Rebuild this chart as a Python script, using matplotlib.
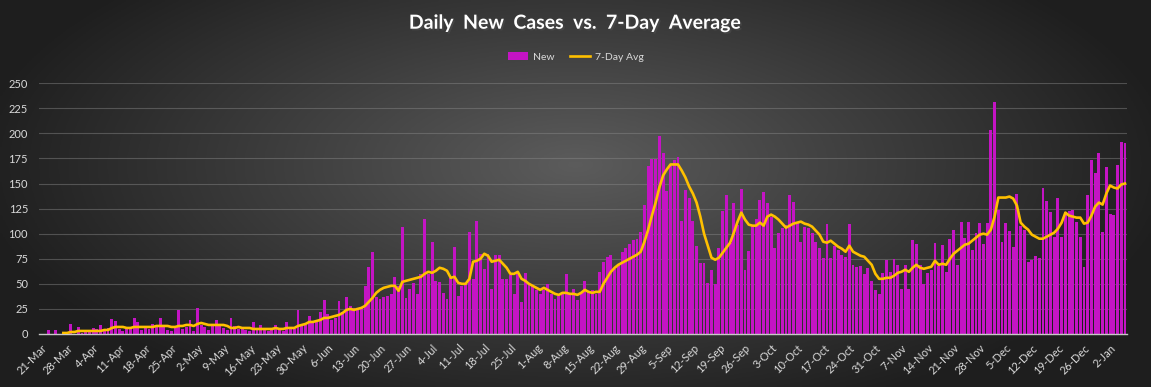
import numpy as np
import pandas as pd
import matplotlib
matplotlib.use('Agg')
import matplotlib.pyplot as plt
import matplotlib.patheffects as pe

# Daily new cases, one value per day starting 21-Mar
start_date = '2020-03-21'
new_cases = [
    0, 0, 4, 0, 4, 0, 0,
    0, 10, 0, 7, 1, 2, 3,
    6, 5, 9, 4, 6, 15, 13,
    5, 3, 6, 5, 16, 12, 4,
    7, 5, 10, 8, 16, 9, 4,
    3, 6, 24, 5, 7, 14, 3,
    26, 9, 7, 4, 9, 14, 9,
    6, 4, 16, 8, 5, 7, 4,
    3, 12, 5, 9, 4, 3, 6,
    9, 5, 3, 12, 6, 5, 24,
    10, 9, 18, 12, 14, 22, 34,
    20, 14, 16, 33, 22, 37, 28,
    26, 24, 26, 48, 67, 82, 37,
    35, 37, 38, 40, 57, 48, 107,
    36, 45, 51, 40, 60, 115, 60,
    92, 53, 52, 41, 35, 56, 87,
    38, 48, 50, 102, 55, 113, 80,
    65, 80, 45, 79, 79, 55, 55,
    59, 40, 62, 32, 61, 50, 48,
    44, 40, 44, 50, 40, 35, 38,
    40, 60, 40, 45, 34, 42, 53,
    42, 44, 40, 62, 72, 77, 79,
    65, 70, 82, 86, 90, 94, 95,
    102, 129, 167, 174, 174, 197, 180,
    143, 168, 173, 176, 113, 144, 136,
    113, 88, 71, 71, 51, 64, 50,
    86, 123, 139, 91, 131, 109, 145,
    64, 83, 108, 115, 134, 142, 131,
    117, 86, 101, 106, 109, 139, 132,
    111, 92, 107, 106, 101, 92, 86,
    76, 110, 76, 88, 84, 79, 77,
    110, 69, 67, 68, 60, 66, 53,
    44, 40, 61, 74, 62, 75, 69,
    45, 69, 45, 94, 90, 69, 50,
    61, 64, 91, 68, 89, 62, 95,
    104, 69, 112, 96, 112, 84, 101,
    111, 90, 111, 203, 231, 124, 92,
    111, 103, 87, 140, 108, 104, 72,
    74, 78, 76, 146, 133, 122, 97,
    136, 97, 122, 123, 124, 112, 97,
    67, 139, 173, 160, 180, 102, 166,
    120, 119, 168, 191, 190,
]

# 7-day average line; it starts on the 7th day
avg_start = 6
avg_7day = [
    1, 1, 2, 2, 3, 3, 3, 3,
    3, 3, 3, 4, 4, 6, 7,
    7, 7, 6, 6, 7, 7, 7,
    7, 7, 7, 8, 8, 8, 8,
    7, 7, 8, 8, 9, 9, 8,
    10, 11, 10, 9, 9, 9, 9,
    9, 8, 6, 6, 7, 6, 6,
    6, 5, 5, 5, 5, 5, 5,
    6, 5, 5, 6, 6, 6, 8,
    9, 10, 12, 12, 13, 14, 16,
    16, 17, 18, 19, 21, 24, 25,
    24, 25, 26, 28, 32, 36, 41,
    44, 46, 47, 48, 48, 43, 52,
    53, 54, 55, 56, 57, 60, 62,
    61, 63, 66, 65, 63, 56, 57,
    51, 50, 50, 55, 72, 73, 75,
    80, 78, 72, 73, 74, 70, 66,
    60, 60, 62, 55, 53, 50, 48,
    46, 44, 46, 44, 42, 40, 39,
    41, 41, 40, 40, 39, 41, 44,
    42, 41, 42, 42, 50, 56, 62,
    66, 69, 71, 73, 75, 77, 79,
    82, 92, 104, 118, 131, 146, 158,
    164, 169, 169, 169, 163, 156, 147,
    140, 131, 117, 100, 88, 76, 74,
    76, 81, 86, 91, 101, 112, 121,
    114, 109, 108, 108, 111, 108, 117,
    119, 117, 114, 110, 106, 108, 110,
    111, 112, 110, 109, 107, 103, 99,
    92, 91, 93, 90, 87, 85, 82,
    88, 82, 80, 78, 77, 73, 69,
    60, 55, 55, 56, 56, 58, 61,
    62, 64, 62, 66, 69, 66, 65,
    66, 67, 73, 69, 70, 69, 75,
    80, 83, 86, 89, 90, 93, 96,
    99, 100, 99, 104, 117, 136, 136,
    136, 137, 135, 128, 111, 107, 104,
    99, 97, 95, 95, 97, 99, 101,
    105, 111, 121, 118, 117, 116, 116,
    110, 111, 118, 127, 131, 129, 140,
    148, 146, 145, 149, 150,
]

dates = pd.date_range(start_date, periods=len(new_cases), freq='D')
x = np.arange(len(new_cases))
x_avg = np.arange(avg_start, avg_start + len(avg_7day))

text_color = '#d9d9d9'
plt.rcParams['font.family'] = ['Lato', 'DejaVu Sans']

fig = plt.figure(figsize=(11.51, 3.87), dpi=100)

# radial gradient background like the Excel chart style
bg = fig.add_axes([0, 0, 1, 1], zorder=-10)
gx, gy = np.meshgrid(np.linspace(-1, 1, 400), np.linspace(-1, 1, 160))
r = np.sqrt((gx / 1.0) ** 2 + ((gy + 0.15) / 1.3) ** 2)
shade = np.clip(0.36 - 0.23 * r, 0.12, 0.36)
bg.imshow(np.dstack([shade, shade, shade]), aspect='auto', extent=[0, 1, 0, 1])
bg.axis('off')

ax = fig.add_axes([0.034, 0.137, 0.945, 0.648])
ax.patch.set_alpha(0)

bars = ax.bar(x, new_cases, width=0.78, color='#c414c4', label='New', zorder=2)
line, = ax.plot(x_avg, avg_7day, color='#ffc000', lw=1.9, label='7-Day Avg', zorder=3)

ax.set_ylim(0, 250)
ax.set_yticks(range(0, 251, 25))
ax.set_xlim(-0.5, len(new_cases) - 0.5)
tick_idx = list(range(0, len(new_cases), 7))
ax.set_xticks(tick_idx)
ax.set_xticklabels([f"{dates[i].day}-{dates[i].strftime('%b')}" for i in tick_idx],
                   rotation=45, ha='right', rotation_mode='anchor')

ax.grid(axis='y', color='#8a8a8a', alpha=0.45, lw=0.8, zorder=0)
for s in ['top', 'right', 'left']:
    ax.spines[s].set_visible(False)
ax.spines['bottom'].set_color('#c8c8c8')
ax.spines['bottom'].set_linewidth(1.0)
ax.tick_params(axis='both', length=0, colors=text_color, labelsize=8)
ax.tick_params(axis='x', pad=6)
ax.tick_params(axis='y', pad=8)

fig.text(0.5, 0.94, 'Daily  New  Cases  vs.  7-Day  Average', ha='center', va='center',
         color='white', fontsize=14, fontweight='bold',
         path_effects=[pe.withSimplePatchShadow(offset=(1.2, -1.2), alpha=0.6)])

leg = fig.legend([bars, line], ['New', '7-Day Avg'], loc='center',
                 bbox_to_anchor=(0.5, 0.853), ncol=2, frameon=False,
                 fontsize=7.5, handlelength=2.0, columnspacing=1.5, handletextpad=0.4)
for t in leg.get_texts():
    t.set_color(text_color)

fig.savefig('out.png', dpi=100)
